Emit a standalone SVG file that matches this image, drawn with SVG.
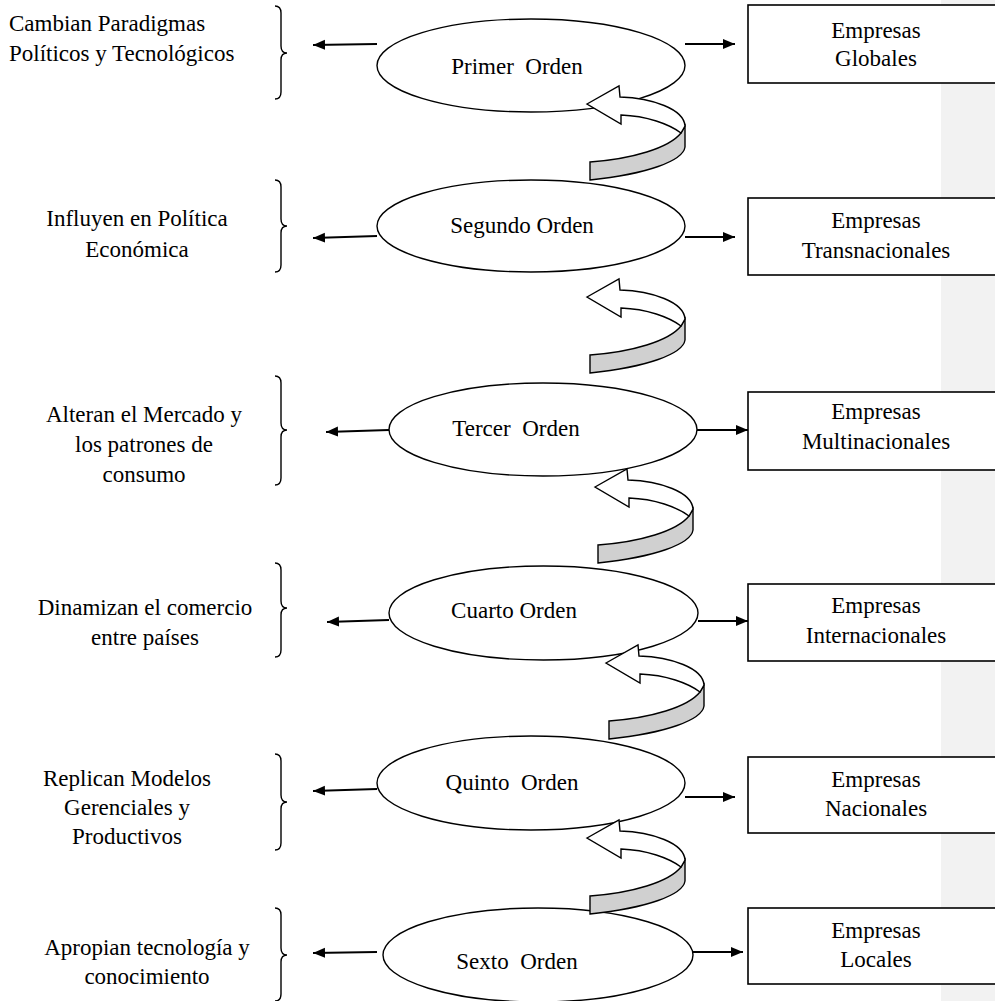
<svg xmlns="http://www.w3.org/2000/svg" xmlns:xlink="http://www.w3.org/1999/xlink" width="995" height="1001" viewBox="0 0 995 1001">
<style>
text{font-family:"Liberation Serif","Times New Roman",serif;font-size:23px;fill:#000}
.c{text-anchor:middle}
.ell{fill:#fff;stroke:#000;stroke-width:1.4}
.box{fill:#fff;stroke:#000;stroke-width:1.6}
.brace{fill:none;stroke:#000;stroke-width:1.4}
.arr{fill:none;stroke:#000;stroke-width:1.9;marker-end:url(#ah)}
.face{fill:#fff;stroke:#000;stroke-width:1.4;stroke-linejoin:miter}
.back{fill:#d0d0d0;stroke:#000;stroke-width:1.4}
</style>
<defs>
<marker id="ah" markerUnits="userSpaceOnUse" markerWidth="14" markerHeight="12" refX="12" refY="5" orient="auto">
<path d="M0,0 L12,5 L0,10 Z" fill="#000"/>
</marker>
<g id="curl">
<path class="back" d="M98,22 L98,43 C96,57 60,70 3,76 L3,58 C45,55 82,44 94,29 Z"/>
<path class="face" d="M0,0 L32,-18 L33,-7 C65,-6 97,5 98,22 L94,29 C82,20 60,12 34,11 L34,20 Z"/>
</g>
</defs>
<rect x="941" y="0" width="54" height="1001" fill="#f2f2f2"/>

<g id="braces">
<path class="brace" d="M275,6 Q281,6 281,13 L281,46 Q281,53 287,53 Q281,53 281,60 L281,92 Q281,99 275,99"/>
<path class="brace" d="M275,180 Q281,180 281,187 L281,219 Q281,226 287,226 Q281,226 281,233 L281,265 Q281,272 275,272"/>
<path class="brace" d="M275,376 Q281,376 281,383 L281,423 Q281,430 287,430 Q281,430 281,437 L281,478 Q281,485 275,485"/>
<path class="brace" d="M275,563 Q281,563 281,570 L281,601 Q281,608 287,608 Q281,608 281,615 L281,650 Q281,657 275,657"/>
<path class="brace" d="M275,754 Q281,754 281,761 L281,795 Q281,802 287,802 Q281,802 281,809 L281,843 Q281,850 275,850"/>
<path class="brace" d="M275,908 Q281,908 281,915 L281,948 Q281,955 287,955 Q281,955 281,962 L281,994 Q281,1001 275,1001"/>
</g>

<g id="left-texts">
<g id="l1"><text x="9" y="31">Cambian Paradigmas</text><text x="9" y="61">Políticos y Tecnológicos</text></g>
<g id="l2"><text class="c" x="137" y="226">Influyen en Política</text><text class="c" x="137" y="257">Económica</text></g>
<g id="l3"><text class="c" x="144" y="422">Alteran el Mercado y</text><text class="c" x="144" y="452">los patrones de</text><text class="c" x="144" y="482">consumo</text></g>
<g id="l4"><text class="c" x="145" y="615">Dinamizan el comercio</text><text class="c" x="145" y="645">entre países</text></g>
<g id="l5"><text class="c" x="127" y="786">Replican Modelos</text><text class="c" x="127" y="815">Gerenciales y</text><text class="c" x="127" y="844">Productivos</text></g>
<g id="l6"><text class="c" x="147" y="955">Apropian tecnología y</text><text class="c" x="147" y="984">conocimiento</text></g>
</g>

<g id="orders">
<g id="o1"><ellipse class="ell" cx="531" cy="65.5" rx="154" ry="46.5"/><text class="c" x="517" y="74" xml:space="preserve">Primer  Orden</text></g>
<g id="o2"><ellipse class="ell" cx="531" cy="226" rx="154" ry="46"/><text class="c" x="522" y="233">Segundo Orden</text></g>
<g id="o3"><ellipse class="ell" cx="543" cy="429.5" rx="154" ry="46.5"/><text class="c" x="516" y="436" xml:space="preserve">Tercer  Orden</text></g>
<g id="o4"><ellipse class="ell" cx="543.5" cy="613" rx="154.5" ry="47"/><text class="c" x="514" y="618">Cuarto Orden</text></g>
<g id="o5"><ellipse class="ell" cx="531" cy="783" rx="154" ry="47"/><text class="c" x="512" y="790" xml:space="preserve">Quinto  Orden</text></g>
<g id="o6"><ellipse class="ell" cx="538" cy="955" rx="155" ry="47"/><text class="c" x="517" y="969" xml:space="preserve">Sexto  Orden</text></g>
</g>

<g id="companies">
<g id="b1"><rect class="box" x="748" y="5" width="260" height="78"/><text class="c" x="876" y="38">Empresas</text><text class="c" x="876" y="66">Globales</text></g>
<g id="b2"><rect class="box" x="748" y="198" width="260" height="77"/><text class="c" x="876" y="228">Empresas</text><text class="c" x="876" y="258">Transnacionales</text></g>
<g id="b3"><rect class="box" x="748" y="392" width="260" height="78"/><text class="c" x="876" y="419">Empresas</text><text class="c" x="876" y="449">Multinacionales</text></g>
<g id="b4"><rect class="box" x="748" y="584" width="260" height="77"/><text class="c" x="876" y="613">Empresas</text><text class="c" x="876" y="643">Internacionales</text></g>
<g id="b5"><rect class="box" x="748" y="757" width="260" height="76"/><text class="c" x="876" y="787">Empresas</text><text class="c" x="876" y="816">Nacionales</text></g>
<g id="b6"><rect class="box" x="748" y="908" width="260" height="76"/><text class="c" x="876" y="938">Empresas</text><text class="c" x="876" y="967">Locales</text></g>
</g>

<g id="connectors">
<line class="arr" x1="377" y1="44" x2="313" y2="45"/>
<line class="arr" x1="377" y1="236" x2="313" y2="238"/>
<line class="arr" x1="389" y1="430" x2="326" y2="432"/>
<line class="arr" x1="389" y1="620" x2="327" y2="622"/>
<line class="arr" x1="377" y1="789" x2="313" y2="791"/>
<line class="arr" x1="377" y1="952" x2="313" y2="953"/>
<line class="arr" x1="685" y1="44" x2="735" y2="44"/>
<line class="arr" x1="685" y1="237" x2="735" y2="237"/>
<line class="arr" x1="697" y1="430" x2="748" y2="430"/>
<line class="arr" x1="698" y1="621" x2="748" y2="621"/>
<line class="arr" x1="685" y1="797" x2="735" y2="797"/>
<line class="arr" x1="693" y1="952" x2="743" y2="952"/>
<use xlink:href="#curl" x="587" y="104"/>
<use xlink:href="#curl" x="587" y="297"/>
<use xlink:href="#curl" x="595" y="487"/>
<use xlink:href="#curl" x="606" y="663"/>
<use xlink:href="#curl" x="587" y="838"/>
</g>
</svg>
